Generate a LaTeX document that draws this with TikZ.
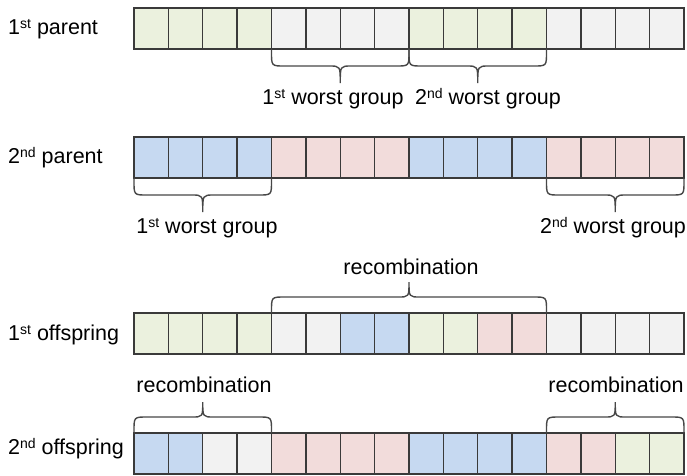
\documentclass[tikz,border=0pt]{standalone}
\usepackage{fontspec}
\setmainfont{Liberation Sans}
\usetikzlibrary{calc}

\definecolor{cG}{HTML}{EBF1DE}
\definecolor{cW}{HTML}{F2F2F2}
\definecolor{cB}{HTML}{C6D9F1}
\definecolor{cR}{HTML}{F2DCDB}
\definecolor{edge}{HTML}{3A3A3A}
\definecolor{brcol}{HTML}{474747}

% small raised text for ordinals
\newcommand\ord[1]{\raisebox{0.55ex}{\fontsize{14}{14}\selectfont #1}}

% curly bracket below two points (left, right)
\newcommand\bracedown[2]{%
  \draw[brc] let \p1=(#1), \p2=(#2) in
    (\x1,\y1) -- (\x1,\y1-3pt) .. controls (\x1,\y1-17pt) .. (\x1+13pt,\y1-17pt)
    -- ({0.5*\x1+0.5*\x2-11pt},\y1-17pt)
    .. controls ({0.5*\x1+0.5*\x2},\y1-17pt) .. ({0.5*\x1+0.5*\x2},\y1-34pt)
    .. controls ({0.5*\x1+0.5*\x2},\y1-17pt) .. ({0.5*\x1+0.5*\x2+11pt},\y1-17pt)
    -- (\x2-13pt,\y1-17pt) .. controls (\x2,\y1-17pt) .. (\x2,\y1-3pt) -- (\x2,\y2);}
% curly bracket above two points (left, right)
\newcommand\braceup[2]{%
  \draw[brc] let \p1=(#1), \p2=(#2) in
    (\x1,\y1) -- (\x1,\y1+2pt) .. controls (\x1,\y1+16pt) .. (\x1+13pt,\y1+16pt)
    -- ({0.5*\x1+0.5*\x2-11pt},\y1+16pt)
    .. controls ({0.5*\x1+0.5*\x2},\y1+16pt) .. ({0.5*\x1+0.5*\x2},\y1+31pt)
    .. controls ({0.5*\x1+0.5*\x2},\y1+16pt) .. ({0.5*\x1+0.5*\x2+11pt},\y1+16pt)
    -- (\x2-13pt,\y1+16pt) .. controls (\x2,\y1+16pt) .. (\x2,\y1+2pt) -- (\x2,\y2);}

\begin{document}
\begin{tikzpicture}[x=1pt,y=-1pt,
  cell/.style={draw=edge, line width=1.3pt, minimum width=34.375pt, minimum height=41pt,
    inner sep=0pt, outer sep=0pt, anchor=north west},
  brc/.style={draw=brcol, line width=1.4pt},
  lbl/.style={font=\fontsize{21.5}{25}\selectfont, inner sep=0pt, text=black},
  rowlbl/.style={lbl, anchor=west}]
\useasboundingbox (0,0) rectangle (687,475);

% the four chromosomes
\foreach \c [count=\i] in {G,G,G,G,W,W,W,W,G,G,G,G,W,W,W,W}
  \node[cell, fill=c\c] (r1c\i) at ({134+(\i-1)*34.375}, 8) {};
\foreach \c [count=\i] in {B,B,B,B,R,R,R,R,B,B,B,B,R,R,R,R}
  \node[cell, fill=c\c] (r2c\i) at ({134+(\i-1)*34.375}, 137) {};
\foreach \c [count=\i] in {G,G,G,G,W,W,B,B,G,G,R,R,W,W,W,W}
  \node[cell, fill=c\c] (r3c\i) at ({134+(\i-1)*34.375}, 313) {};
\foreach \c [count=\i] in {B,B,W,W,R,R,R,R,B,B,B,B,R,R,G,G}
  \node[cell, fill=c\c] (r4c\i) at ({134+(\i-1)*34.375}, 433) {};

% row titles
\node[rowlbl] (t1) at (8,29) {1\ord{st} parent};
\node[rowlbl] (t2) at (8,158) {2\ord{nd} parent};
\node[rowlbl] (t3) at (8,335) {1\ord{st} offspring};
\node[rowlbl] (t4) at (8,449) {2\ord{nd} offspring};

% brackets
\bracedown{r1c5.south west}{r1c8.south east}
\bracedown{r1c9.south west}{r1c12.south east}
\bracedown{r2c1.south west}{r2c4.south east}
\bracedown{r2c13.south west}{r2c16.south east}
\braceup{r3c5.north west}{r3c12.north east}
\braceup{r4c1.north west}{r4c4.north east}
\braceup{r4c13.north west}{r4c16.north east}

% bracket captions
\node[lbl] (g1) at (333,99) {1\ord{st} worst group};
\node[lbl] (g2) at (488,99) {2\ord{nd} worst group};
\node[lbl] (g3) at (207,228) {1\ord{st} worst group};
\node[lbl] (g4) at (613,228) {2\ord{nd} worst group};
\node[lbl] (g5) at (411,267) {recombination};
\node[lbl] (g6) at (204,385) {recombination};
\node[lbl] (g7) at (616,385) {recombination};
\end{tikzpicture}
\end{document}
